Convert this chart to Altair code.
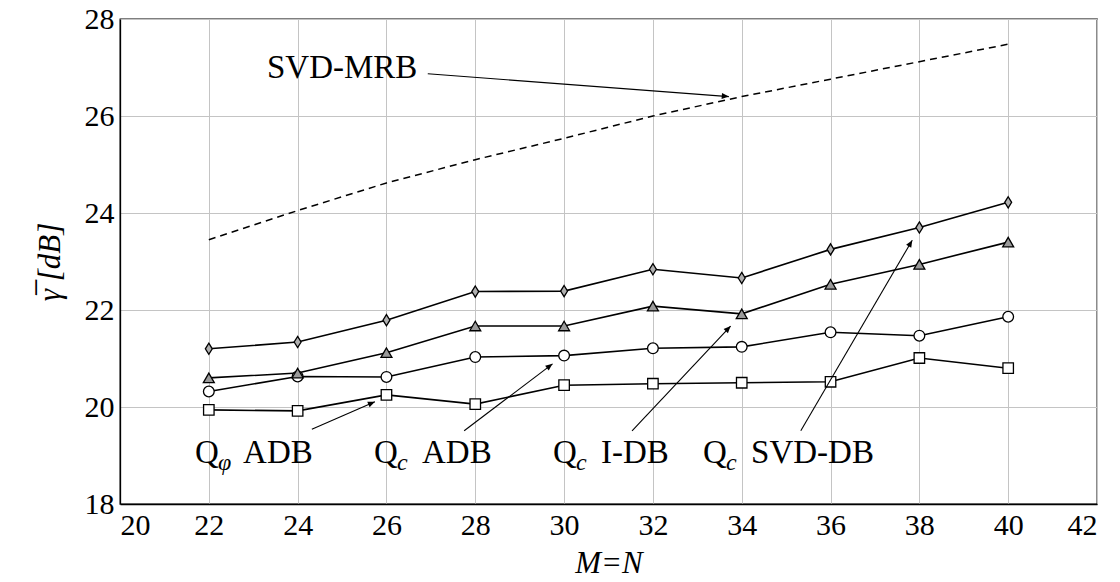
import math
import altair as alt
import pandas as pd

# ---------------- data ----------------
x_vals = [22, 24, 26, 28, 30, 32, 34, 36, 38, 40]
q_phi_adb = [19.94, 19.92, 20.25, 20.06, 20.45, 20.48, 20.50, 20.52, 21.01, 20.80]
q_c_adb = [20.32, 20.63, 20.62, 21.03, 21.06, 21.21, 21.24, 21.54, 21.47, 21.86]
q_c_idb = [20.60, 20.70, 21.12, 21.67, 21.67, 22.08, 21.92, 22.53, 22.94, 23.40]
q_c_svddb = [21.20, 21.34, 21.79, 22.38, 22.39, 22.84, 22.66, 23.25, 23.70, 24.22]
svd_mrb = [23.45, 24.05, 24.62, 25.10, 25.54, 26.00, 26.40, 26.76, 27.12, 27.48]

series_names = ["Q_phi ADB", "Q_c ADB", "Q_c I-DB", "Q_c SVD-DB"]
series_values = [q_phi_adb, q_c_adb, q_c_idb, q_c_svddb]

# annotation labels: left x, baseline y, subscript, rest of the text
label_x = [21.69, 25.72, 29.75, 33.13]
label_y = [18.85, 18.85, 18.85, 18.85]
label_sub = ["\u03c6", "c", "c", "c"]
label_rest = ["ADB", "ADB", "I-DB", "SVD-DB"]

mrb_label_x = [23.31]
mrb_label_y = [26.78]
mrb_label_text = ["SVD-MRB"]

# arrows: start (x1, y1) -> tip (x2, y2)
arrow_x1 = [24.32, 27.75, 31.53, 35.33, 26.93]
arrow_y1 = [19.54, 19.51, 19.51, 19.51, 26.87]
arrow_x2 = [25.74, 29.74, 33.75, 37.84, 33.71]
arrow_y2 = [20.11, 20.89, 21.67, 23.44, 26.40]

x_ticks = list(range(20, 43, 2))
y_ticks = list(range(18, 29, 2))

# ---------------- layout constants ----------------
PLOT_W, PLOT_H = 977, 485
X_DOM = [20, 42]
Y_DOM = [18, 28]
PX_X = PLOT_W / (X_DOM[1] - X_DOM[0])
PX_Y = PLOT_H / (Y_DOM[1] - Y_DOM[0])
FONT = "Liberation Serif"

# ---------------- tables ----------------
rows = []
for name, vals in zip(series_names, series_values):
    for xv, yv in zip(x_vals, vals):
        rows.append({"x": xv, "y": yv, "series": name})
df = pd.DataFrame(rows)
df_mrb = pd.DataFrame({"x": x_vals, "y": svd_mrb})

df_lab = pd.DataFrame({"x": label_x, "y": label_y, "sub": label_sub, "rest": label_rest})
df_mrb_lab = pd.DataFrame({"x": mrb_label_x, "y": mrb_label_y, "t": mrb_label_text})

df_arr = pd.DataFrame({"x1": arrow_x1, "y1": arrow_y1, "x2": arrow_x2, "y2": arrow_y2})
df_arr["angle"] = [
    (math.degrees(math.atan2((b - a) * PX_X, (d - c) * PX_Y)) + 360) % 360
    for a, b, c, d in zip(df_arr.x1, df_arr.x2, df_arr.y1, df_arr.y2)
]

xs = alt.Scale(domain=X_DOM, nice=False, zero=False)
ys = alt.Scale(domain=Y_DOM, nice=False, zero=False)

x_axis = alt.Axis(values=x_ticks, title="M=N", format="d")
y_axis = alt.Axis(values=y_ticks, title="\u03b3\u0305 [dB]", format="d")

diamond = "M0,-1L0.62,0L0,1L-0.62,0Z"
shape_scale = alt.Scale(domain=series_names, range=["square", "circle", "triangle-up", diamond])
fill_scale = alt.Scale(domain=series_names, range=["white", "white", "#9a9a9a", "#b0b0b0"])
size_scale = alt.Scale(domain=series_names, range=[110, 125, 110, 150])

base_x = alt.X("x:Q", scale=xs, axis=x_axis)
base_y = alt.Y("y:Q", scale=ys, axis=y_axis)

lines = alt.Chart(df).mark_line(color="black", strokeWidth=1.6).encode(
    x=base_x, y=base_y, detail="series:N"
)

points = alt.Chart(df).mark_point(filled=False, stroke="black", strokeWidth=1.3, opacity=1).encode(
    x="x:Q",
    y="y:Q",
    shape=alt.Shape("series:N", scale=shape_scale, legend=None),
    fill=alt.Fill("series:N", scale=fill_scale, legend=None),
    size=alt.Size("series:N", scale=size_scale, legend=None),
)

mrb = alt.Chart(df_mrb).mark_line(color="black", strokeWidth=1.5, strokeDash=[7, 5]).encode(
    x="x:Q", y="y:Q"
)

rules = alt.Chart(df_arr).mark_rule(color="black", strokeWidth=1.1).encode(
    x="x1:Q", y="y1:Q", x2="x2:Q", y2="y2:Q"
)

heads = alt.Chart(df_arr).mark_point(
    shape="M0,0L-0.42,1L0.42,1Z", filled=True, color="black", size=200, opacity=1
).encode(x="x2:Q", y="y2:Q", angle=alt.Angle("angle:Q", scale=None))

text_q = alt.Chart(df_lab).mark_text(
    text="Q", font=FONT, fontSize=33, align="left", baseline="alphabetic", color="black"
).encode(x="x:Q", y="y:Q")

text_sub = alt.Chart(df_lab).mark_text(
    font=FONT, fontSize=24, fontStyle="italic", align="left", baseline="alphabetic",
    color="black", dx=23, dy=7
).encode(x="x:Q", y="y:Q", text="sub:N")

text_rest = alt.Chart(df_lab).mark_text(
    font=FONT, fontSize=33, align="left", baseline="alphabetic", color="black", dx=48
).encode(x="x:Q", y="y:Q", text="rest:N")

text_mrb = alt.Chart(df_mrb_lab).mark_text(
    font=FONT, fontSize=33, align="left", baseline="alphabetic", color="black"
).encode(x="x:Q", y="y:Q", text="t:N")

chart = (
    alt.layer(lines, mrb, points, rules, heads, text_q, text_sub, text_rest, text_mrb)
    .properties(
        width=PLOT_W,
        height=PLOT_H,
        autosize=alt.AutoSizeParams(type="none"),
        padding={"left": 120, "top": 19, "right": 23, "bottom": 78},
        background="white",
    )
    .configure_view(stroke="black", strokeWidth=1.3)
    .configure_axis(
        labelFont=FONT,
        labelFontSize=30,
        labelColor="black",
        titleFont=FONT,
        titleFontSize=31,
        titleFontStyle="italic",
        titleFontWeight="normal",
        titleColor="black",
        gridColor="#c4c4c4",
        gridWidth=1,
        domainColor="black",
        domainWidth=1.3,
        ticks=False,
        labelPadding=6,
    )
    .configure_axisX(titlePadding=8)
    .configure_axisY(titlePadding=18)
)

chart.save("out.html", embed_options={"renderer": "svg", "actions": False})
